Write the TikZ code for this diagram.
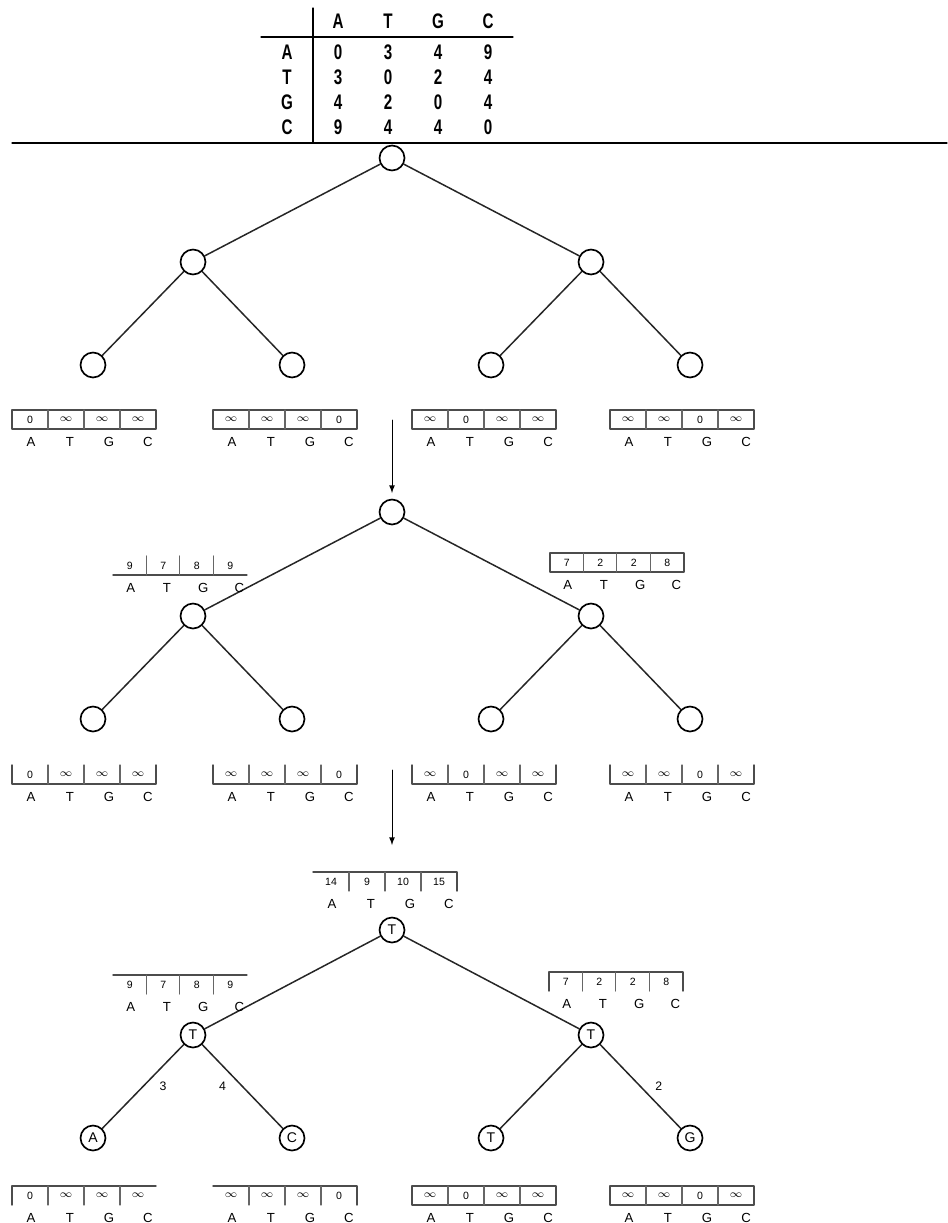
\documentclass[tikz,border=0pt]{standalone}
\usepackage{fontspec}
\setmainfont{Liberation Sans}
\newfontfamily\tabfont[FakeStretch=0.72]{Liberation Sans}
\newcommand{\infval}{$\infty$}
\tikzset{
  vert/.style={circle,draw,line width=0.95pt,minimum size=0.5cm,inner sep=0pt,font=\fontsize{8}{9}\selectfont},
  branch/.style={line width=0.85pt,draw=black!85},
  tab/.style={font=\tabfont\bfseries\fontsize{12}{14}\selectfont,inner sep=0pt},
  boxframe/.style={line width=0.8pt,draw=black!70},
  boxdiv/.style={line width=0.6pt,draw=black!60},
  boxval/.style={font=\fontsize{6}{7}\selectfont,inner sep=0pt},
  boxlet/.style={font=\fontsize{7.5}{8}\selectfont,inner sep=0pt},
  wlabel/.style={font=\fontsize{7}{8}\selectfont,inner sep=1pt}
}
% Kostenvektor unter einem Knoten: Name, linke obere Ecke, Rahmen, vier Werte
\newcommand{\scorebox}[8][]{%
  \begin{scope}[shift={(#3)},#1]
    \draw[boxframe] #4;
    \foreach \kk in {1,2,3} \draw[boxdiv] (36*\kk,0) -- (36*\kk,19);
    \foreach \val [count=\kk] in {#5,#6,#7,#8}
      \node[boxval] (#2v\kk) at (36*\kk-18,9.5) {\val};
    \foreach \lt [count=\kk] in {A,T,G,C}
      \node[boxlet] (#2\lt) at (39*\kk-20,32) {\lt};
  \end{scope}}

\begin{document}
\begin{tikzpicture}[x=0.02cm,y=-0.02cm,line cap=round,line join=round]
  \useasboundingbox (0,0) rectangle (947,1223);
  % Kostenmatrix
  \draw[line width=0.7pt] (313,8) -- (313,143);
  \draw[line width=0.7pt] (261,37) -- (513,37);
  \draw[line width=0.7pt] (12,143) -- (947,143);
  \foreach \lt [count=\j] in {A,T,G,C}
    \node[tab] (h\lt) at (288+50*\j,21) {\lt};
  \foreach \rw/\va/\vb/\vc/\vd [count=\i] in {A/0/3/4/9,T/3/0/2/4,G/4/2/0/4,C/9/4/4/0} {
    \node[tab] (row\rw) at (287,27+25*\i) {\rw};
    \foreach \val [count=\j] in {\va,\vb,\vc,\vd}
      \node[tab] (m\rw\j) at (288+50*\j,27+25*\i) {\val};
  }

  % Baum 1 und 2 (leere Knoten)
  \foreach \t/\dy in {1/0,2/354} {
    \node[vert] (r\t) at (392,158+\dy) {};
    \node[vert] (a\t) at (193,262+\dy) {};
    \node[vert] (b\t) at (591,262+\dy) {};
    \node[vert] (aa\t) at (93,365+\dy) {};
    \node[vert] (ab\t) at (292,365+\dy) {};
    \node[vert] (ba\t) at (491,365+\dy) {};
    \node[vert] (bb\t) at (690,365+\dy) {};
    \draw[branch] (r\t) -- (a\t) (r\t) -- (b\t) (a\t) -- (aa\t) (a\t) -- (ab\t)
      (b\t) -- (ba\t) (b\t) -- (bb\t);
  }
  % Baum 3 (beschriftet)
  \node[vert] (r3) at (392,930) {T};
  \node[vert] (a3) at (193,1035) {T};
  \node[vert] (b3) at (591,1035) {T};
  \node[vert] (aa3) at (93,1138) {A};
  \node[vert] (ab3) at (292,1138) {C};
  \node[vert] (ba3) at (491,1138) {T};
  \node[vert] (bb3) at (690,1138) {G};
  \draw[branch] (r3) -- (a3) (r3) -- (b3) (b3) -- (ba3)
    (a3) -- node[wlabel,right=8pt] {3} (aa3)
    (a3) -- node[wlabel,left=8pt] {4} (ab3)
    (b3) -- node[wlabel,right=7pt] {2} (bb3);

  % Pfeile zwischen den Schritten
  \coordinate (arr1a) at (392,420);
  \coordinate (arr1b) at (392,493);
  \coordinate (arr2a) at (392,770);
  \coordinate (arr2b) at (392,845);
  \draw[-latex,line width=0.5pt] (arr1a) -- (arr1b);
  \draw[-latex,line width=0.5pt] (arr2a) -- (arr2b);

  % Blaetter, Schritt 1
  \scorebox{u1}{12,410}{(0,0) rectangle (144,19)}{0}{\infval}{\infval}{\infval}
  \scorebox{u2}{213,410}{(0,0) rectangle (144,19)}{\infval}{\infval}{\infval}{0}
  \scorebox{u3}{412,410}{(0,0) rectangle (144,19)}{\infval}{0}{\infval}{\infval}
  \scorebox{u4}{610,410}{(0,0) rectangle (144,19)}{\infval}{\infval}{0}{\infval}
  % Blaetter, Schritt 2
  \scorebox{v1}{12,765}{(0,0) -- (0,19) -- (144,19) -- (144,0)}{0}{\infval}{\infval}{\infval}
  \scorebox{v2}{213,765}{(0,0) -- (0,19) -- (144,19) -- (144,0)}{\infval}{\infval}{\infval}{0}
  \scorebox{v3}{412,765}{(0,0) -- (0,19) -- (144,19) -- (144,0)}{\infval}{0}{\infval}{\infval}
  \scorebox{v4}{610,765}{(0,0) -- (0,19) -- (144,19) -- (144,0)}{\infval}{\infval}{0}{\infval}
  \scorebox[xscale=0.93]{y2a}{113,556}{(0,19) -- (144,19)}{9}{7}{8}{9}
  \scorebox[xscale=0.93]{y2b}{550,553}{(0,0) rectangle (144,19)}{7}{2}{2}{8}
  % Blaetter und innere Knoten, Schritt 3
  \scorebox{w1}{12,1186}{(0,19) -- (0,0) -- (144,0)}{0}{\infval}{\infval}{\infval}
  \scorebox{w2}{213,1186}{(0,0) -- (144,0) -- (144,19)}{\infval}{\infval}{\infval}{0}
  \scorebox{w3}{412,1186}{(0,0) rectangle (144,19)}{\infval}{0}{\infval}{\infval}
  \scorebox{w4}{610,1186}{(0,0) rectangle (144,19)}{\infval}{\infval}{0}{\infval}
  \scorebox{z3r}{313,872}{(0,0) -- (144,0) -- (144,19)}{14}{9}{10}{15}
  \scorebox[xscale=0.93]{z3a}{113,975}{(0,0) -- (144,0)}{9}{7}{8}{9}
  \scorebox[xscale=0.93]{z3b}{549,972}{(0,19) -- (0,0) -- (144,0) -- (144,19)}{7}{2}{2}{8}
\end{tikzpicture}
\end{document}
